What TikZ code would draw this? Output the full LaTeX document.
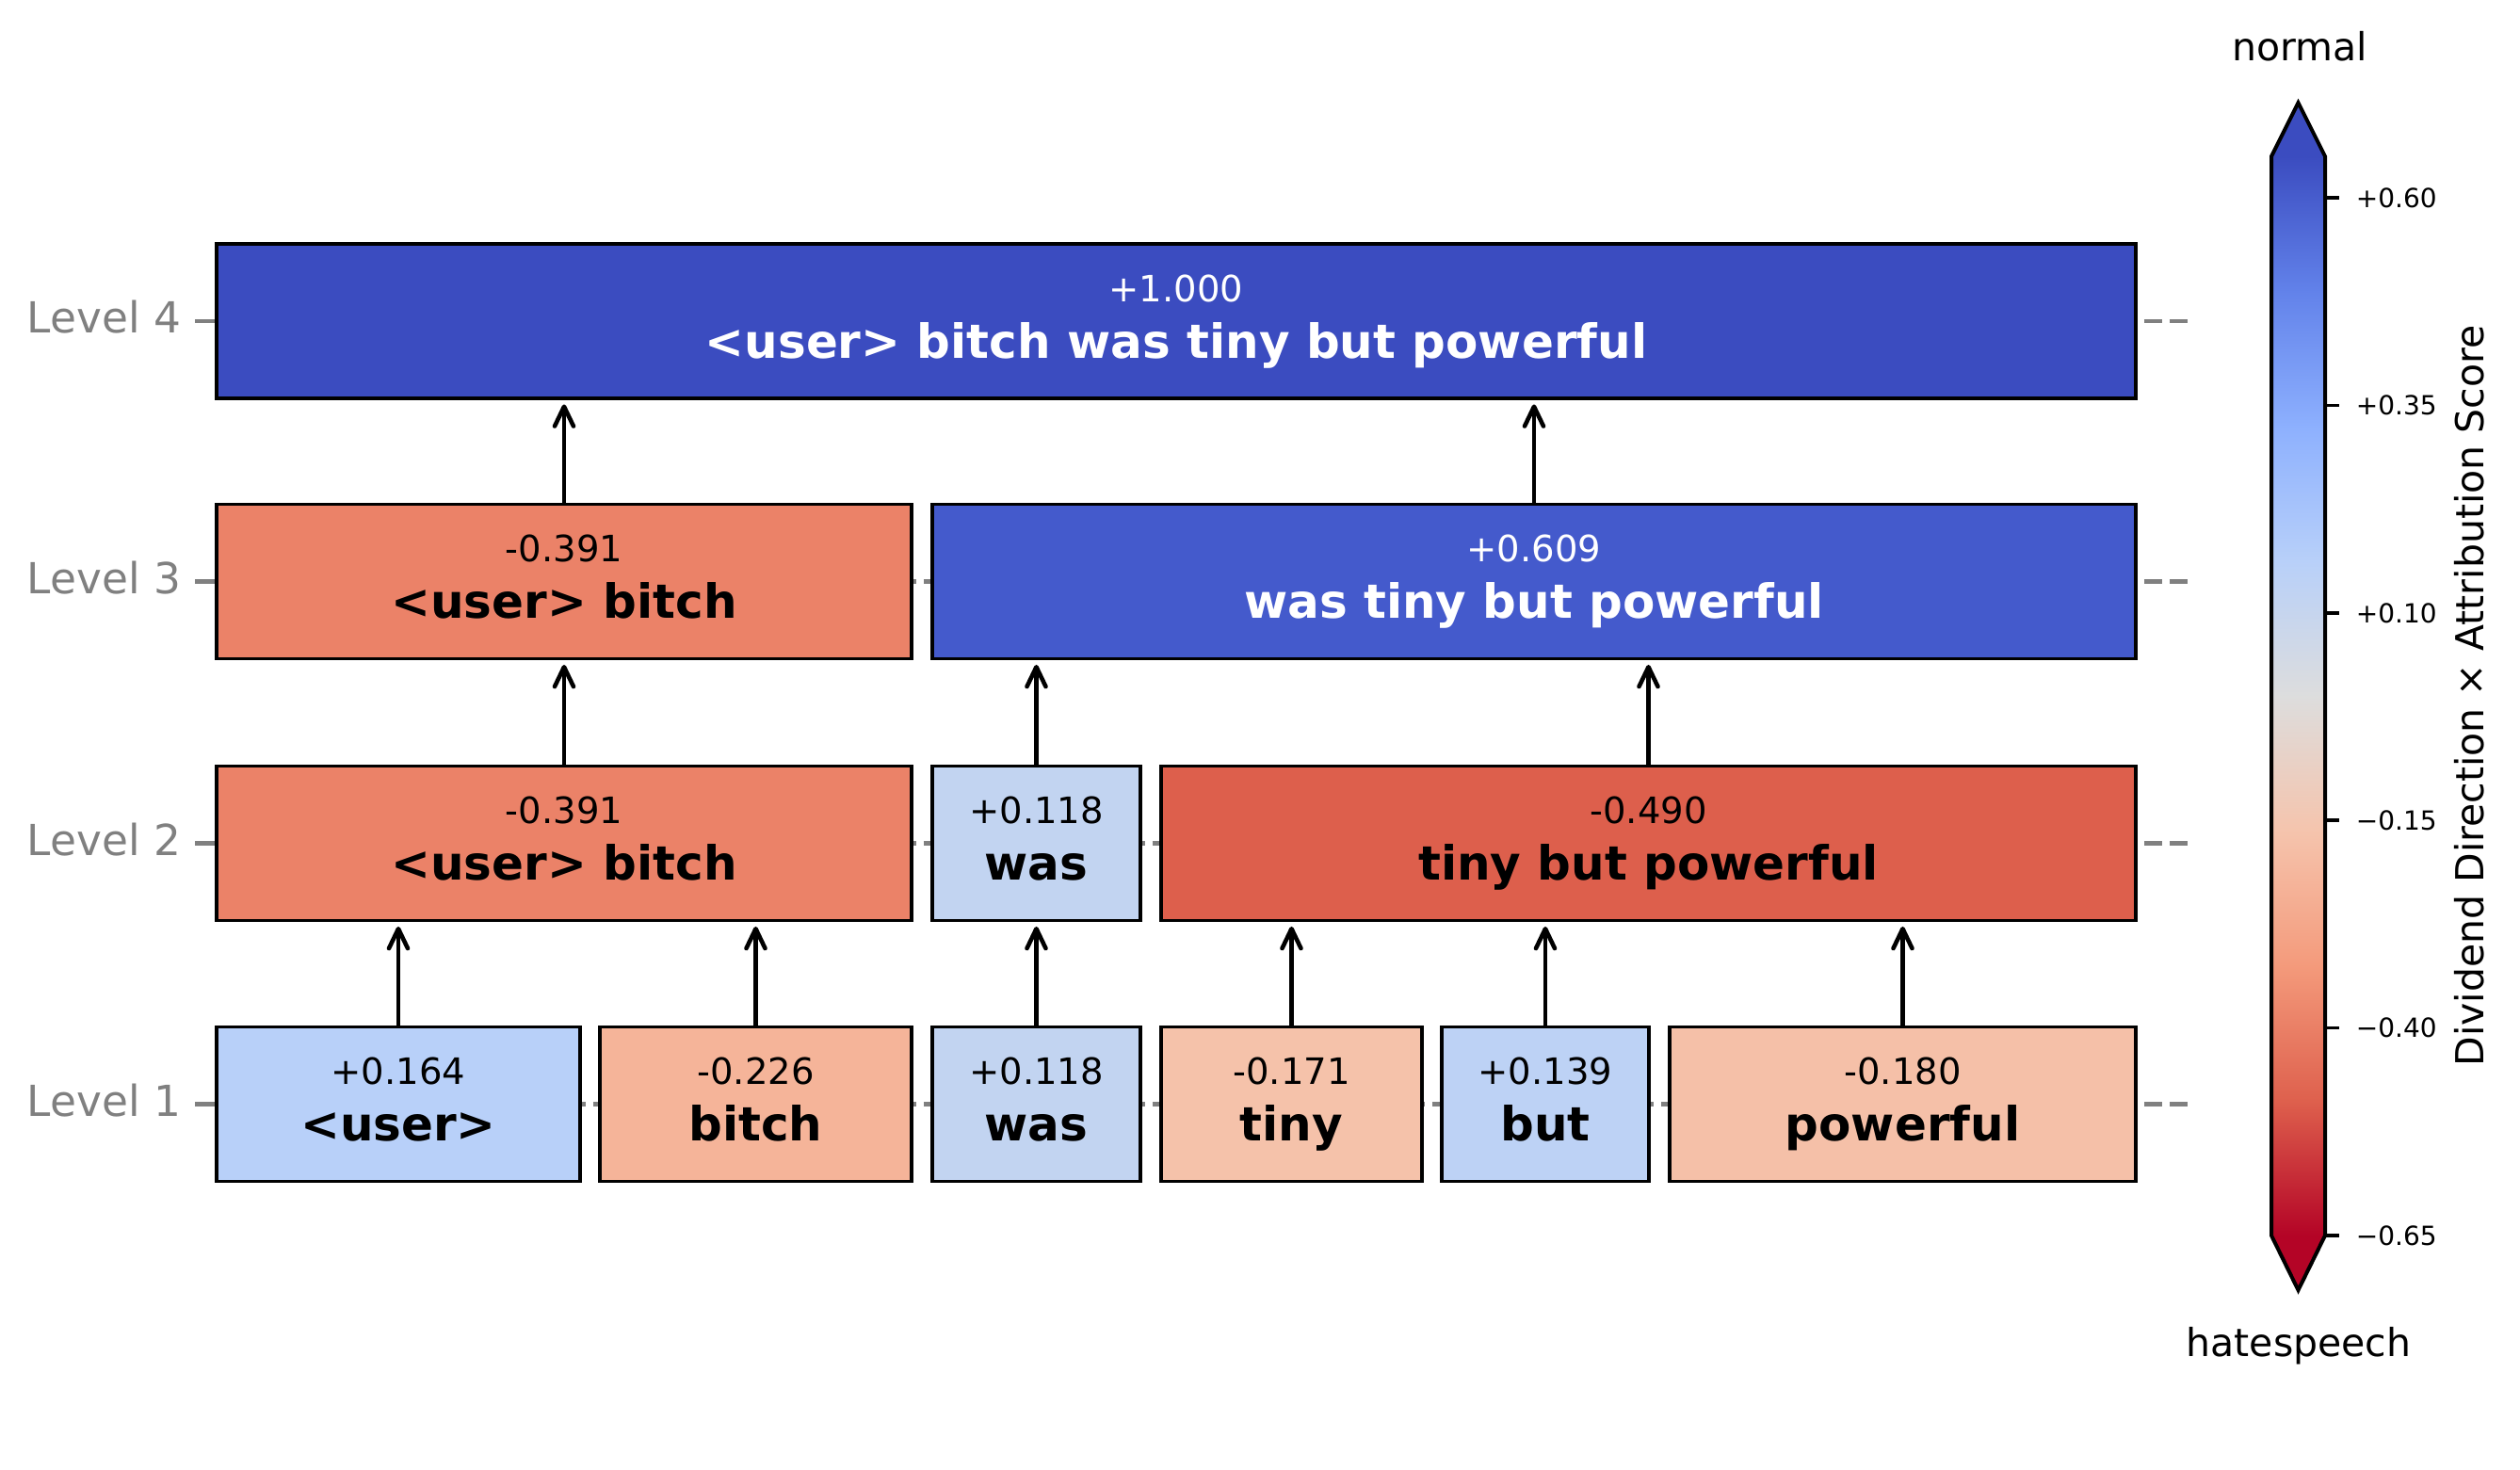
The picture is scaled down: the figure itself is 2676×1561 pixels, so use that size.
\documentclass[tikz,border=0pt]{standalone}
\usepackage{fontspec}
\setmainfont{DejaVu Sans}
\usetikzlibrary{arrows.meta}
% box colours (coolwarm, reversed)
\definecolor{cFull}{RGB}{59,76,192}
\definecolor{cWtbp}{RGB}{68,90,204}
\definecolor{cUb}{RGB}{235,130,104}
\definecolor{cTbp}{RGB}{221,95,76}
\definecolor{cUser}{RGB}{184,208,249}
\definecolor{cBitch}{RGB}{245,180,153}
\definecolor{cWas}{RGB}{194,212,241}
\definecolor{cTiny}{RGB}{245,194,170}
\definecolor{cBut}{RGB}{189,210,245}
\definecolor{cPow}{RGB}{245,192,168}
% colorbar key colours
\definecolor{cb0}{RGB}{59,76,192}
\definecolor{cb1}{RGB}{98,130,234}
\definecolor{cb2}{RGB}{141,176,254}
\definecolor{cb3}{RGB}{184,208,249}
\definecolor{cb4}{RGB}{221,221,221}
\definecolor{cb5}{RGB}{245,196,173}
\definecolor{cb6}{RGB}{244,154,123}
\definecolor{cb7}{RGB}{222,96,77}
\definecolor{cb8}{RGB}{180,4,38}
\definecolor{axgray}{RGB}{128,128,128}
\tikzset{
  tokbox/.style={draw=black, line width=0.9pt, inner sep=0pt, minimum height=39.36pt},
  numtxt/.style={font=\fontsize{9.25}{10}\selectfont, inner sep=0pt, anchor=base},
  wordtxt/.style={font=\fontsize{12}{14}\selectfont\bfseries, inner sep=0pt, anchor=base},
  lvl/.style={font=\fontsize{10.9}{12}\selectfont, text=axgray, anchor=base east, inner sep=0pt},
  gridln/.style={draw=axgray, line width=1.1pt, dash pattern=on 4.56pt off 1.92pt},
  ytick/.style={draw=axgray, line width=1pt},
  arr/.style={-{Straight Barb[length=5pt,width=4.8pt,line cap=round,line join=round]}, line width=1.1pt, shorten >=1.1pt},
  cbtxt/.style={font=\fontsize{9.84}{11}\selectfont, inner sep=0pt},
  cbtick/.style={draw=black, line width=0.9pt},
  cbtlab/.style={font=\fontsize{6.72}{8}\selectfont, inner sep=0pt, anchor=west},
}
% name, x1, x2, cy, fill, text colour, number, word
\newcommand\tokenbox[8]{%
  \node[tokbox, fill=#5, minimum width={(#3-#2)*0.24pt}] (#1) at ({(#2+#3)/2},#4) {};
  \node[numtxt, text=#6] (#1n) at ({(#2+#3)/2},{#4-21}) {#7};
  \node[wordtxt, text=#6] (#1w) at ({(#2+#3)/2},{#4+39}) {#8};
}
\begin{document}
\begin{tikzpicture}[x=0.24pt,y=-0.24pt]
\useasboundingbox (0,0) rectangle (2676,1561);
% grid lines and ticks
\foreach \cy in {341,617.5,895.5,1172.5}{
  \draw[gridln] (225,\cy) -- (2328,\cy);
  \draw[ytick] (207,\cy) -- (225,\cy);
}
\node[lvl] (lv4) at (193,353.5) {Level 4};
\node[lvl] (lv3) at (193,630) {Level 3};
\node[lvl] (lv2) at (193,908) {Level 2};
\node[lvl] (lv1) at (193,1185) {Level 1};
% level 4
\tokenbox{all}{230}{2268}{341}{cFull}{white}{+1.000}{<user> bitch was tiny but powerful}
% level 3
\tokenbox{ubA}{230}{968}{617.5}{cUb}{black}{-0.391}{<user> bitch}
\tokenbox{wtbp}{990}{2268}{617.5}{cWtbp}{white}{+0.609}{was tiny but powerful}
% level 2
\tokenbox{ubB}{230}{968}{895.5}{cUb}{black}{-0.391}{<user> bitch}
\tokenbox{wasB}{990}{1211}{895.5}{cWas}{black}{+0.118}{was}
\tokenbox{tbp}{1233}{2268}{895.5}{cTbp}{black}{-0.490}{tiny but powerful}
% level 1
\tokenbox{user}{230}{616}{1172.5}{cUser}{black}{+0.164}{<user>}
\tokenbox{bitch}{637}{968}{1172.5}{cBitch}{black}{-0.226}{bitch}
\tokenbox{wasA}{990}{1211}{1172.5}{cWas}{black}{+0.118}{was}
\tokenbox{tiny}{1233}{1510}{1172.5}{cTiny}{black}{-0.171}{tiny}
\tokenbox{but}{1531}{1751}{1172.5}{cBut}{black}{+0.139}{but}
\tokenbox{pow}{1773}{2268}{1172.5}{cPow}{black}{-0.180}{powerful}
% arrows
\draw[arr] (user.north) -- (user.north |- ubB.south);
\draw[arr] (bitch.north) -- (bitch.north |- ubB.south);
\draw[arr] (wasA.north) -- (wasA.north |- wasB.south);
\draw[arr] (tiny.north) -- (tiny.north |- tbp.south);
\draw[arr] (but.north) -- (but.north |- tbp.south);
\draw[arr] (pow.north) -- (pow.north |- tbp.south);
\draw[arr] (ubB.north) -- (ubB.north |- ubA.south);
\draw[arr] (wasB.north) -- (wasB.north |- wtbp.south);
\draw[arr] (tbp.north) -- (tbp.north |- wtbp.south);
\draw[arr] (ubA.north) -- (ubA.north |- all.south);
\draw[arr] (wtbp.north) -- (wtbp.north |- all.south);
% colorbar
\fill[cb0] (2412,167) -- (2440.5,109) -- (2469,167) -- cycle;
\fill[cb8] (2412,1311) -- (2440.5,1370) -- (2469,1311) -- cycle;
\shade[top color=cb0, bottom color=cb1] (2412,166) rectangle (2469,310);
\shade[top color=cb1, bottom color=cb2] (2412,309.25) rectangle (2469,453.5);
\shade[top color=cb2, bottom color=cb3] (2412,452.5) rectangle (2469,596.75);
\shade[top color=cb3, bottom color=cb4] (2412,595.75) rectangle (2469,740);
\shade[top color=cb4, bottom color=cb5] (2412,739) rectangle (2469,883.25);
\shade[top color=cb5, bottom color=cb6] (2412,882.25) rectangle (2469,1026.5);
\shade[top color=cb6, bottom color=cb7] (2412,1025.5) rectangle (2469,1169.75);
\shade[top color=cb7, bottom color=cb8] (2412,1168.75) rectangle (2469,1312);
\draw[line width=0.96pt, line join=miter] (2412,166) -- (2440.5,109) -- (2469,166) -- (2469,1312) -- (2440.5,1370) -- (2412,1312) -- cycle;
\foreach \ty/\tl in {210.1/{+0.60},430.5/{+0.35},650.9/{+0.10},871.2/{−0.15},1091.6/{−0.40},1312/{−0.65}}{
  \draw[cbtick] (2469,\ty) -- (2484,\ty);
  \node[cbtlab] at (2501,\ty) {\tl};
}
\node[cbtxt, anchor=base] (nrm) at (2442,64) {normal};
\node[cbtxt, anchor=base] (hs) at (2441,1440) {hatespeech};
\node[cbtxt, anchor=base, rotate=90] (cbl) at (2637,739) {Dividend Direction × Attribution Score};
\end{tikzpicture}
\end{document}
